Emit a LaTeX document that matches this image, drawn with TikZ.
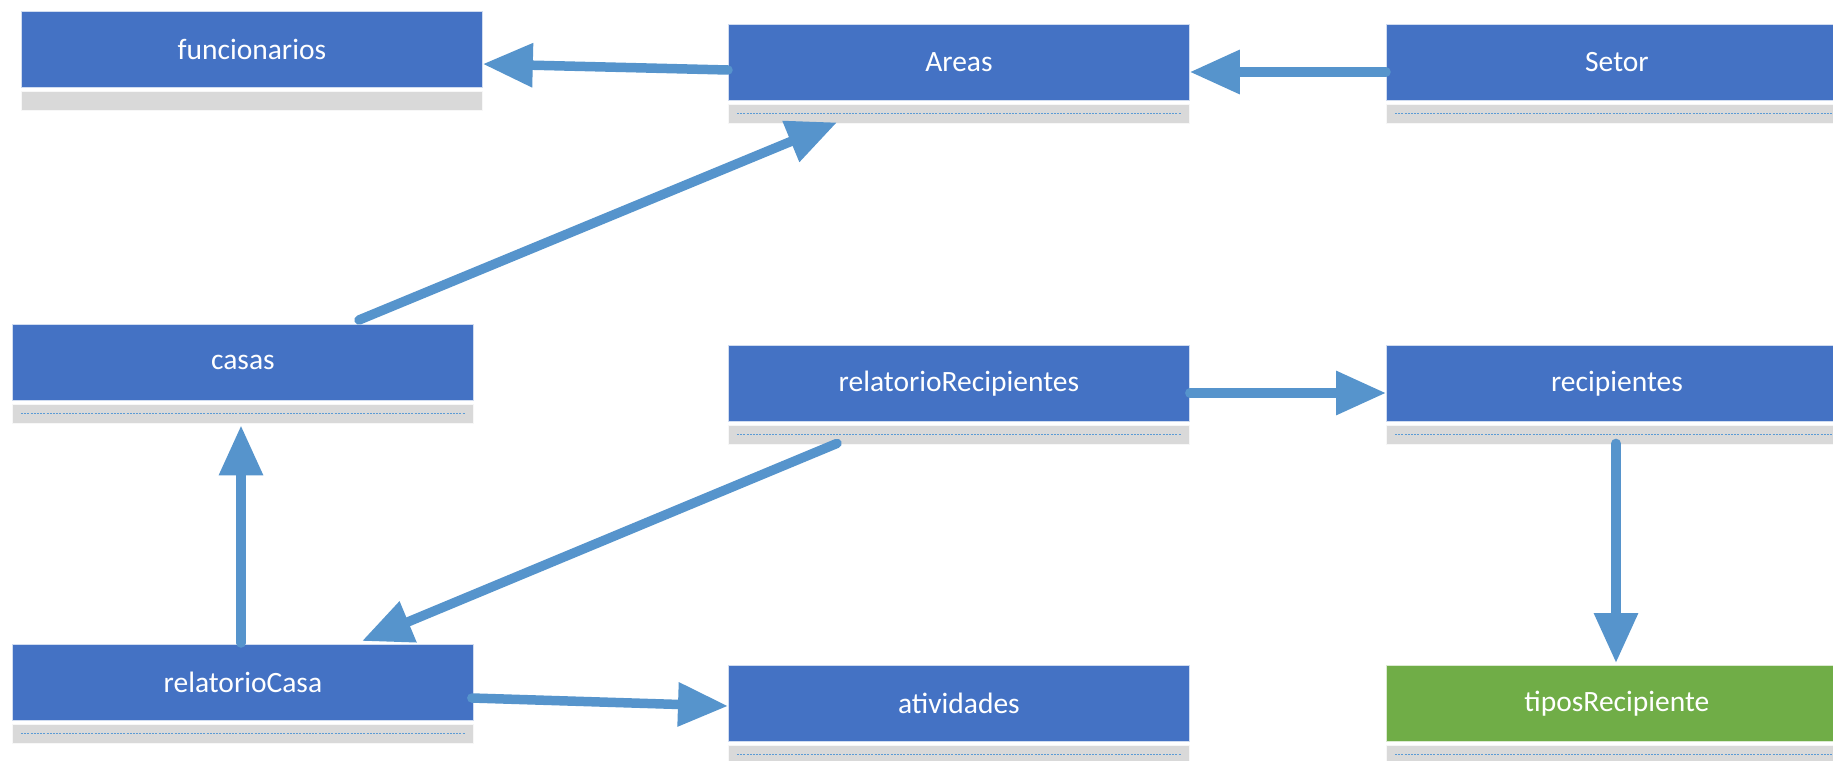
\documentclass[tikz,border=0pt]{standalone}
\usepackage{fontspec}
\setmainfont{Carlito}
\usetikzlibrary{arrows.meta,calc}
\definecolor{boxblue}{HTML}{4472C4}
\definecolor{boxgreen}{HTML}{70AD47}
\definecolor{stripgray}{HTML}{D9D9D9}
\definecolor{arrowblue}{RGB}{86,148,204}
\definecolor{dashblue}{HTML}{5B9BD5}
\tikzset{
  tbox/.style={draw=white!75!boxblue, line width=0.8pt, fill=boxblue, text=white, anchor=north west,
    minimum width=461pt, minimum height=76pt, inner sep=0pt, font=\fontsize{29.5}{34}\selectfont},
  gbox/.style={draw=white!80!stripgray, line width=0.6pt, fill=stripgray, anchor=north west,
    minimum width=461pt, minimum height=19pt, inner sep=0pt},
  dline/.style={dashblue, line width=1.4pt, dash pattern=on 2pt off 1.2pt},
  conn/.style={arrowblue, line width=9.5pt, line cap=round,
    -{Triangle[length=50pt,width=42pt]}}
}
\newcommand{\umlbox}[5]{%
  \node[tbox,#5] (#1) at (#2,#3) {#4};
  \node[gbox] (#1-g) at ($(#1.south west)+(0,3)$) {};
}
\newcommand{\dashes}[1]{\draw[dline] ($(#1.west)+(9,0)$) -- ($(#1.east)+(-9,0)$);}
\begin{document}
\begin{tikzpicture}[x=1pt,y=-1pt]
\fill[white] (0,0) rectangle (1833,760);
\useasboundingbox (0,0) rectangle (1833,760);
\clip (0,0) rectangle (1833,760);
\umlbox{fun}{21}{11}{funcionarios}{}
\umlbox{areas}{728}{24}{Areas}{}
\umlbox{setor}{1386}{24}{Setor}{}
\umlbox{casas}{12}{324}{casas}{}
\umlbox{relrec}{728}{345}{relatorioRecipientes}{}
\umlbox{recip}{1386}{345}{recipientes}{}
\umlbox{relcasa}{12}{644}{relatorioCasa}{}
\umlbox{ativ}{728}{665}{atividades}{}
\umlbox{tipos}{1386}{665}{tiposRecipiente}{fill=boxgreen,draw=white!75!boxgreen}
\dashes{areas-g}
\dashes{setor-g}
\dashes{casas-g}
\dashes{relrec-g}
\dashes{recip-g}
\dashes{relcasa-g}
\dashes{ativ-g}
\dashes{tipos-g}
% connectors
\draw[conn] ($(areas.north west)+(0,46)$) -- ($(fun.north east)+(0,53)$);
\draw[conn] ($(setor.north west)+(0,48)$) -- ($(areas.north east)+(0,48)$);
\draw[conn] ($(casas.north west)+(347,-4)$) -- ($(areas-g.south west)+(109,-1)$);
\draw[conn] ($(relrec.north east)+(0,48)$) -- ($(recip.north west)+(0,48)$);
\draw[conn] ($(recip-g.south west)+(230,-1)$) -- ($(tipos.north west)+(230,-2)$);
\draw[conn] ($(relrec-g.south west)+(109,-1)$) -- ($(relcasa.north west)+(350,-3)$);
\draw[conn] ($(relcasa.north west)+(229,-1)$) -- ($(casas-g.south west)+(229,2)$);
\draw[conn] ($(relcasa.north east)+(-2,54)$) -- ($(ativ.north west)+(0,41)$);
\end{tikzpicture}
\end{document}
